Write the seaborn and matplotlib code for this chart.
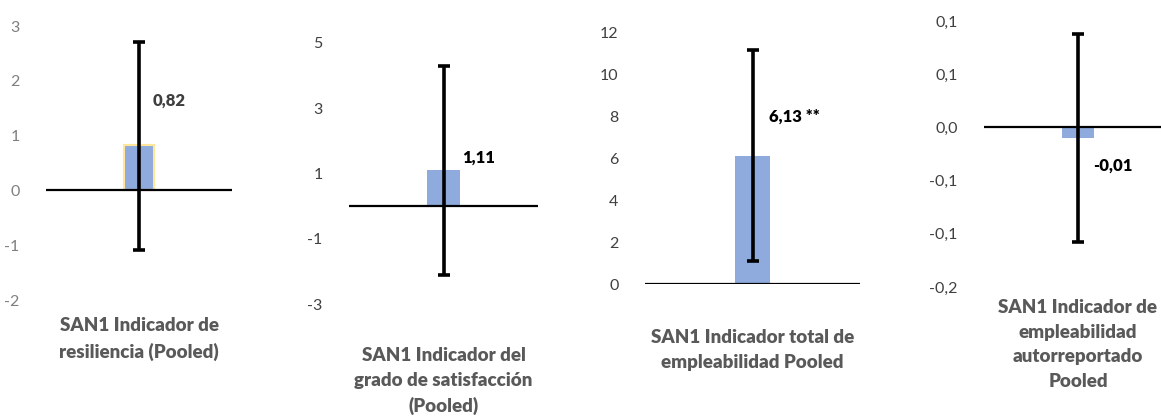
import numpy as np
import pandas as pd
import seaborn as sns
import matplotlib.pyplot as plt

# Datos
indicadores = ["SAN1 Indicador de\nresiliencia (Pooled)",
               "SAN1 Indicador del\ngrado de satisfacción\n(Pooled)",
               "SAN1 Indicador total de\nempleabilidad Pooled",
               "SAN1 Indicador de\nempleabilidad\nautorreportado\nPooled"]
efectos = [0.82, 1.11, 6.13, -0.01]
ic_inf = [-1.08, -2.11, 1.10, -0.108]
ic_sup = [2.71, 4.28, 11.20, 0.088]
estrellas = ["", "", " **", ""]

yticks = [[-2, -1, 0, 1, 2, 3],
          [-3, -1, 1, 3, 5],
          [0, 2, 4, 6, 8, 10, 12],
          [-0.15, -0.10, -0.05, 0.0, 0.05, 0.10]]
ytick_labels = [["-2", "-1", "0", "1", "2", "3"],
                ["-3", "-1", "1", "3", "5"],
                ["0", "2", "4", "6", "8", "10", "12"],
                ["-0,2", "-0,1", "-0,1", "0,0", "0,1", "0,1"]]
ylims = [(-2, 3), (-3, 5), (0, 12), (-0.15, 0.10)]

# Disposición (en píxeles) de cada panel: izquierda, derecha, arriba, abajo
W, H = 1161, 418
cajas = [(46, 232, 26, 300), (349, 538, 43, 304), (645, 860, 33, 284), (984, 1172, 21, 287)]
anchos = [0.16, 0.175, 0.163, 0.165]
pos_etiqueta = [(0.575, 0.726), (0.598, 0.559), (0.577, 0.665), (0.58, 0.455)]
top_xlabel = [317, 347, 329, 299]
color_ticks = ["#7f7f7f", "#404040", "#404040", "#404040"]
color_etiq = ["#404040", "#000000", "#000000", "#000000"]
borde = ["#FFE699", "none", "none", "none"]

sns.set_style("white")
plt.rcParams['font.family'] = ['Lato', 'DejaVu Sans']

fig = plt.figure(figsize=(W / 100, H / 100), dpi=100)

for i in range(4):
    l, r, t, b = cajas[i]
    ax = fig.add_axes([l / W, 1 - b / H, (r - l) / W, (b - t) / H])
    df = pd.DataFrame({"x": [indicadores[i]], "y": [efectos[i]]})
    sns.barplot(data=df, x="x", y="y", ax=ax, color="#8FAADC", saturation=1,
                width=anchos[i], edgecolor=borde[i], linewidth=1.5, errorbar=None)
    err = [[efectos[i] - ic_inf[i]], [ic_sup[i] - efectos[i]]]
    ax.errorbar([0], [efectos[i]], yerr=err, fmt="none", ecolor="black",
                elinewidth=2.6, capsize=4.5, capthick=2.6, zorder=5)
    ax.axhline(0, color="black", lw=1.6, zorder=4)
    ax.set_xlim(-0.5, 0.5)
    ax.set_ylim(*ylims[i])
    ax.set_yticks(yticks[i])
    ax.set_yticklabels(ytick_labels[i])
    ax.tick_params(axis="y", length=0, pad=19, labelsize=11.5, labelcolor=color_ticks[i])
    ax.set_xticks([])
    ax.set_xlabel("")
    ax.set_ylabel("")
    for s in ax.spines.values():
        s.set_visible(False)
    ax.patch.set_alpha(0)
    txt = f"{efectos[i]:.2f}".replace(".", ",") + estrellas[i]
    ax.text(pos_etiqueta[i][0], pos_etiqueta[i][1], txt, transform=ax.transAxes,
            ha="left", va="center", fontsize=12, fontweight="heavy", color=color_etiq[i])
    fig.text((l + r) / 2 / W, 1 - top_xlabel[i] / H, indicadores[i], ha="center", va="top",
             fontsize=13.5, fontweight="heavy", color="#595959", linespacing=1.55)

fig.savefig("out.png", dpi=100)
